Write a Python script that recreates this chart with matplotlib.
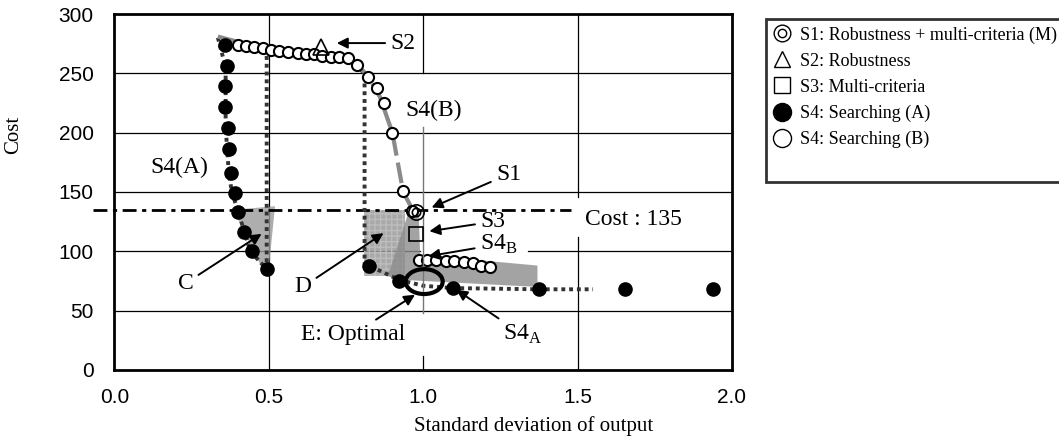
import matplotlib
matplotlib.use("Agg")
import matplotlib.pyplot as plt
from matplotlib.lines import Line2D
from matplotlib.patches import Polygon, Rectangle, Ellipse

SERIF = "Liberation Serif"
SANS = "Liberation Sans"

# S4 searching (A): filled circles
s4a_x = [0.358, 0.364, 0.358, 0.358, 0.367, 0.372, 0.377, 0.39, 0.40, 0.42, 0.444, 0.493,
         0.825, 0.921, 1.098, 1.375, 1.653, 1.939]
s4a_y = [274, 256, 239, 222, 204, 186, 166, 149, 133, 116, 100, 85,
         88, 75, 69, 68, 68, 68]

# S4 searching (B): open circles
s4b_x = [0.399, 0.426, 0.452, 0.48, 0.506, 0.533, 0.562, 0.593, 0.619, 0.646, 0.673, 0.70,
         0.727, 0.755, 0.787, 0.82, 0.849, 0.873, 0.90, 0.934, 0.965,
         0.986, 1.013, 1.04, 1.073, 1.10, 1.132, 1.16, 1.186, 1.215]
s4b_y = [274, 273, 272, 271, 270, 269, 268, 267, 266, 266, 265, 264,
         264, 263, 257, 247, 238, 225, 200, 151, 134,
         93, 93, 93, 92, 92, 91, 90, 88, 87]

# single solutions
s1_x, s1_y = 0.975, 133   # robustness + multi-criteria
s2_x, s2_y = 0.668, 272   # robustness
s3_x, s3_y = 0.975, 115   # multi-criteria

# trend lines
pathA_x = [0.335, 0.36, 0.36, 0.37, 0.38, 0.40, 0.44, 0.493, 0.493, 0.76, 0.81, 0.81, 0.825,
           0.921, 1.0, 1.098, 1.375, 1.55]
pathA_y = [280, 255, 205, 167, 150, 134, 100, 85, 270, 262, 250, 90, 88,
           76, 71, 69, 68, 68]
trendB_x = [0.335, 0.45, 0.6, 0.72, 0.78, 0.82, 0.86, 0.90, 0.935, 0.97]
trendB_y = [281, 273, 268, 265, 259, 248, 230, 200, 150, 133]

cost_limit = 135

# shaded regions
regionC = [(0.385, 135), (0.52, 138), (0.50, 86), (0.47, 90)]
regionD = (0.808, 79, 0.132, 56)   # x, y, width, height
band = [(0.885, 79), (0.955, 135), (0.985, 135), (0.99, 97), (1.37, 88),
        (1.37, 70), (0.93, 76)]

fig = plt.figure(figsize=(10.59, 4.38), dpi=100)
ax = fig.add_axes([0.1081, 0.1553, 0.5831, 0.8127])
ax.set_xlim(0, 2.0)
ax.set_ylim(0, 300)

# grid
for yv in [50, 150, 200, 250]:
    ax.plot([0, 2], [yv, yv], color="black", lw=0.9, zorder=1)
ax.plot([0, 0.99], [100, 100], color="black", lw=0.9, zorder=1)
ax.plot([1.34, 2], [100, 100], color="black", lw=0.9, zorder=1)
ax.plot([0.5, 0.5], [0, 300], color="black", lw=0.9, zorder=1)
ax.plot([1.5, 1.5], [0, 112], color="black", lw=0.9, zorder=1)
ax.plot([1.5, 1.5], [146, 300], color="black", lw=0.9, zorder=1)
ax.plot([1.0, 1.0], [250, 300], color="black", lw=0.9, zorder=1)
ax.plot([1.0, 1.0], [0, 12], color="black", lw=0.9, zorder=1)
ax.plot([1.0, 1.0], [48, 205], color="#777777", lw=1.0, zorder=6)

# shaded areas
ax.add_patch(Polygon(regionC, closed=True, facecolor="#9a9a9a", alpha=0.8, lw=0, zorder=2))
ax.add_patch(Rectangle(regionD[:2], regionD[2], regionD[3], facecolor="#9a9a9a",
                       alpha=0.85, lw=0, zorder=2))
ax.add_patch(Rectangle(regionD[:2], regionD[2], regionD[3], facecolor="none",
                       edgecolor="#bdbdbd", hatch="+++", lw=0, zorder=2))
ax.add_patch(Polygon(band, closed=True, facecolor="#8c8c8c", alpha=0.8, lw=0, zorder=2))

# cost limit line
ax.plot([-0.07, 1.48], [cost_limit, cost_limit], color="black", lw=2,
        dashes=(5, 2, 1.5, 2), clip_on=False, zorder=3)

# trend lines
ax.plot(pathA_x, pathA_y, color="#333333", lw=2.8, dashes=(1, 1),
        dash_capstyle="butt", zorder=3)
ax.plot(trendB_x, trendB_y, color="#8a8a8a", lw=3, dashes=(5, 1.7), zorder=3)

# markers
ax.plot(s4a_x, s4a_y, "o", color="black", ms=9.5, zorder=5)
ax.plot(s4b_x, s4b_y, "o", mfc="white", mec="black", mew=1.5, ms=8, zorder=5)
ax.plot(s2_x, s2_y, "^", mfc="none", mec="black", mew=1.2, ms=12, zorder=6)
ax.plot(s3_x, s3_y, "s", mfc="none", mec="black", mew=1.2, ms=10, zorder=6)
ax.plot(s1_x, s1_y, "o", mfc="none", mec="black", mew=1.2, ms=11, zorder=6)
ax.plot(s1_x, s1_y, "o", mfc="none", mec="black", mew=1.2, ms=6, zorder=6)

# optimal ellipse
ax.add_patch(Ellipse((1.003, 74.5), 0.12, 21, facecolor="none", edgecolor="black",
                     lw=3, zorder=7))

# labels and arrows
tk = dict(fontfamily=SERIF, fontsize=17, ha="center", va="center", zorder=8)
arr = dict(arrowstyle="-|>", color="black", lw=1.4, mutation_scale=16)
ax.text(0.209, 171, "S4(A)", **tk)
ax.text(1.035, 219, "S4(B)", **tk)
ax.annotate("S2", xy=(0.711, 275.5), xytext=(0.935, 275.5), arrowprops=arr, **tk)
ax.annotate("S1", xy=(1.019, 136), xytext=(1.277, 165), arrowprops=arr, **tk)
ax.annotate("S3", xy=(1.011, 116.6), xytext=(1.226, 125), arrowprops=arr, **tk)
ax.annotate("S4$_\\mathregular{B}$", xy=(1.008, 95.5), xytext=(1.245, 106),
            arrowprops=arr, **tk)
ax.annotate("C", xy=(0.484, 116), xytext=(0.23, 73), arrowprops=arr, **tk)
ax.annotate("D", xy=(0.879, 116.6), xytext=(0.61, 70), arrowprops=arr, **tk)
ax.annotate("E: Optimal", xy=(0.981, 64.7), xytext=(0.772, 30), arrowprops=arr, **tk)
ax.annotate("S4$_\\mathregular{A}$", xy=(1.10, 68.9), xytext=(1.32, 30),
            arrowprops=arr, **tk)
ax.text(1.68, 126.5, "Cost : 135", **tk)

# axes styling
for sp in ax.spines.values():
    sp.set_linewidth(2)
ax.set_xticks([0.0, 0.5, 1.0, 1.5, 2.0])
ax.set_xticklabels(["0.0", "0.5", "1.0", "1.5", "2.0"])
ax.set_yticks([0, 50, 100, 150, 200, 250, 300])
ax.tick_params(length=0, labelsize=15)
ax.tick_params(axis="y", pad=15)
ax.tick_params(axis="x", pad=13)
for lb in ax.get_xticklabels() + ax.get_yticklabels():
    lb.set_fontfamily(SANS)
ax.set_xlabel("Standard deviation of output", fontfamily=SERIF, fontsize=15, labelpad=2)
ax.xaxis.set_label_coords(0.678, -0.13)
ax.set_ylabel("Cost", fontfamily=SERIF, fontsize=15)
ax.yaxis.set_label_coords(-0.148, 0.66)

# legend
h1 = (Line2D([], [], ls="none", marker="o", mfc="none", mec="black", ms=12, mew=1),
      Line2D([], [], ls="none", marker="o", mfc="none", mec="black", ms=6, mew=1))
h2 = Line2D([], [], ls="none", marker="^", mfc="none", mec="black", ms=12, mew=1)
h3 = Line2D([], [], ls="none", marker="s", mfc="none", mec="black", ms=11, mew=1)
h4 = Line2D([], [], ls="none", marker="o", color="black", ms=13)
h5 = Line2D([], [], ls="none", marker="o", mfc="none", mec="black", ms=13, mew=1)
h6 = Line2D([], [], ls="none")
leg = fig.legend([h1, h2, h3, h4, h5, h6],
                 ["S1: Robustness + multi-criteria (M)", "S2: Robustness",
                  "S3: Multi-criteria", "S4: Searching (A)", "S4: Searching (B)", ""],
                 loc="upper left", bbox_to_anchor=(766 / 1059, 1 - 19 / 438),
                 prop={"family": SERIF, "size": 13}, frameon=True, fancybox=False,
                 handlelength=1.0, handletextpad=0.5, labelspacing=0.5,
                 borderpad=0.4, borderaxespad=0)
leg.get_frame().set_edgecolor("black")
leg.get_frame().set_linewidth(2)

fig.savefig("out.png", dpi=100)
